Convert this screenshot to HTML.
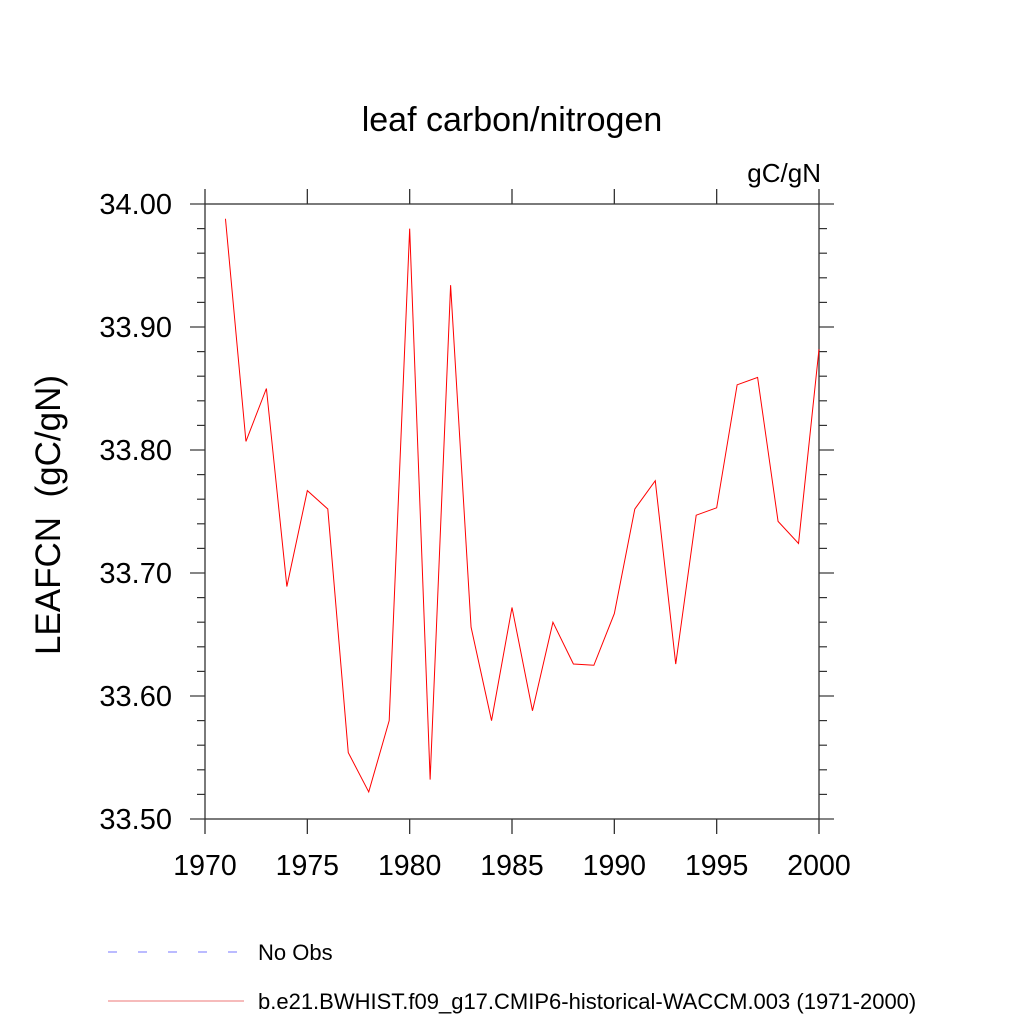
<!DOCTYPE html>
<html><head><meta charset="utf-8"><style>
body{margin:0;background:#fff}
svg text{font-family:"Liberation Sans",sans-serif;fill:#000}
</style></head><body>
<svg id="chart" width="1024" height="1024" xmlns="http://www.w3.org/2000/svg">
<rect width="1024" height="1024" fill="#fff"/>
<text x="512" y="131" font-size="34" text-anchor="middle">leaf carbon/nitrogen</text>
<text x="821" y="182" font-size="26" text-anchor="end">gC/gN</text>
<text transform="translate(60,515) rotate(-90)" font-size="35" text-anchor="middle" style="white-space:pre" xml:space="preserve">LEAFCN  (gC/gN)</text>
<g id="axes"></g>
<g id="series"></g>
<g>
<line x1="108" y1="952" x2="244" y2="952" stroke="#7777ff" stroke-width="1" stroke-dasharray="9 21"/>
<text x="258" y="960" font-size="22">No Obs</text>
<line x1="108" y1="1001" x2="244" y2="1001" stroke="#ee7777" stroke-width="1"/>
<text x="258" y="1009" font-size="22">b.e21.BWHIST.f09_g17.CMIP6-historical-WACCM.003 (1971-2000)</text>
</g>
</svg>
<script>
const years=[1971,1972,1973,1974,1975,1976,1977,1978,1979,1980,1981,1982,1983,1984,1985,1986,1987,1988,1989,1990,1991,1992,1993,1994,1995,1996,1997,1998,1999,2000];
const leafcn=[33.988,33.807,33.850,33.689,33.767,33.752,33.554,33.522,33.580,33.980,33.532,33.934,33.656,33.580,33.672,33.588,33.660,33.626,33.625,33.667,33.752,33.775,33.626,33.747,33.753,33.853,33.859,33.742,33.724,33.882];
const xTicks=[1970,1975,1980,1985,1990,1995,2000];
const yTicks=[33.5,33.6,33.7,33.8,33.9,34.0];
const yTickLabels=["33.50","33.60","33.70","33.80","33.90","34.00"];
const L=205,R=819,T=204,B=819;
const x=v=>L+(v-1970)/30*(R-L);
const y=v=>B-(v-33.5)/0.5*(B-T);
const NS="http://www.w3.org/2000/svg";
const ax=document.getElementById('axes'),se=document.getElementById('series');
function mk(p,tag,a){const e=document.createElementNS(NS,tag);for(const k in a)e.setAttribute(k,a[k]);p.appendChild(e);return e;}
const fr=mk(ax,'rect',{x:L,y:T,width:R-L,height:B-T,fill:'none',stroke:'#333','stroke-width':1.3});


xTicks.forEach(v=>{
  const t1=mk(ax,'line',{x1:x(v),x2:x(v),y1:B,y2:B+15,stroke:'#333','stroke-width':1.3});
  
  
  const t2=mk(ax,'line',{x1:x(v),x2:x(v),y1:T,y2:T-15,stroke:'#333','stroke-width':1.3});
  
  
  const tx=mk(ax,'text',{x:x(v),y:B+56,'font-size':28.5,'text-anchor':'middle'});
  tx.textContent=v;
  
  
});
for(let v=33.5;v<34.0001;v+=0.02){
  const major=Math.abs(v*10-Math.round(v*10))<1e-6;
  const len=major?15:8;
  const a=mk(ax,'line',{x1:L-len,x2:L,y1:y(v),y2:y(v),stroke:'#333','stroke-width':1.2});
  
  
  const b=mk(ax,'line',{x1:R,x2:R+len,y1:y(v),y2:y(v),stroke:'#333','stroke-width':1.2});
  
  
}
yTicks.forEach((v,i)=>{
  const tx=mk(ax,'text',{x:L-33,y:y(v)+10,'font-size':29,'text-anchor':'end'});
  tx.textContent=yTickLabels[i];
  
  
});
const pl=mk(se,'polyline',{points:years.map((yr,i)=>x(yr)+','+y(leafcn[i])).join(' '),fill:'none',stroke:'#ff0000','stroke-width':1});


</script>
</body></html>
